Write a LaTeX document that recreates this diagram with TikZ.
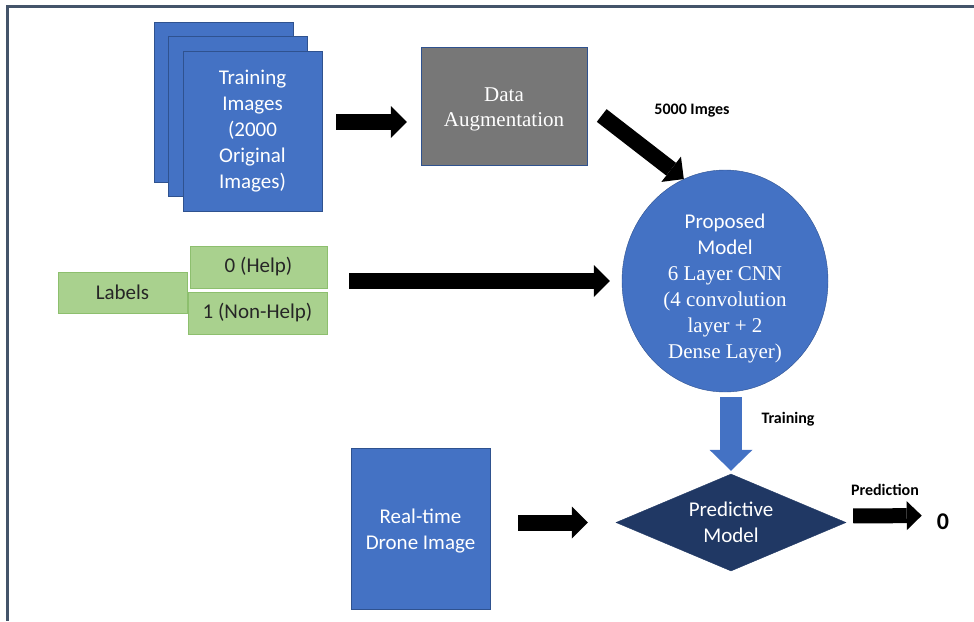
\documentclass[tikz,border=0pt]{standalone}
\usepackage{fontspec}
\setmainfont{Carlito}
\newfontfamily\tnr{Liberation Serif}
\usetikzlibrary{shapes.geometric,arrows.meta}

\definecolor{boxblue}{HTML}{4472C4}
\definecolor{edgeblue}{HTML}{2F528F}
\definecolor{boxgray}{HTML}{777777}
\definecolor{boxgreen}{HTML}{A9D18E}
\definecolor{edgegreen}{HTML}{8DBF6E}
\definecolor{diamondblue}{HTML}{203864}
\definecolor{frameline}{HTML}{44546A}

\begin{document}
\begin{tikzpicture}[x=1pt, y=-1pt,
        txt/.style={font=\fontsize{21}{26}\selectfont, align=center},
        bluebox/.style={txt, fill=boxblue, draw=edgeblue, text=white, inner sep=0pt},
        greenbox/.style={txt, fill=boxgreen, draw=edgegreen, text=black!85, inner sep=0pt},
        note/.style={font=\fontsize{16}{19}\selectfont\bfseries},
        blk/.style={line width=16pt, -{Triangle[length=16pt, width=32pt, line width=0pt]}}]
        \useasboundingbox (0,0) rectangle (974,621);
        \draw[frameline, line width=3pt] (974,6.5) -- (7.5,6.5) -- (7.5,621);
        % stacked training images
        \foreach \d in {0,14.5}
            {
                \draw[fill=boxblue, draw=edgeblue] (154+\d,22+\d) rectangle ++(139,160);
            }
        \node[bluebox, minimum width=139pt, minimum height=160pt] (train) at (252.5,131) {Training\\Images\\(2000\\Original\\Images)};
        \node[txt, fill=boxgray, draw=edgeblue, text=white, minimum width=166pt, minimum height=118pt] (aug) at (504,106) {};
        \node[txt, text=white, font=\tnr\fontsize{21}{25}\selectfont] (augtxt) at (504,109) {Data\\Augmentation};
        \node[note] (imges) at (692,111) {5000 Imges};
        \node[bluebox, ellipse, minimum width=206pt, minimum height=222pt] (model) at (725,281) {};
        \node[txt, text=white] (modeltxt) at (725,288) {Proposed\\Model\\{\tnr 6 Layer CNN}\\{\tnr (4 convolution}\\{\tnr layer + 2}\\{\tnr Dense Layer)}};
        % labels
        \node[greenbox, minimum width=129pt, minimum height=41pt] (labels) at (122.5,292.5) {Labels};
        \node[greenbox, minimum width=137pt, minimum height=42pt] (help) at (258.5,267) {0 (Help)};
        \node[greenbox, minimum width=139pt, minimum height=42pt] (nonhelp) at (257.5,313) {1 (Non-Help)};
        % prediction
        \node[bluebox, minimum width=139pt, minimum height=161pt] (drone) at (420.5,528.5) {};
        \node[txt, text=white] (dronetxt) at (420.5,531) {Real-time\\Drone Image};
        \node[txt, diamond, fill=diamondblue, draw=diamondblue, text=white, inner sep=0pt, minimum width=230pt, minimum height=97pt, aspect=2.37] (pred) at (731,522.5) {Predictive\\Model};
        \node[note] (trainlbl) at (788,419) {Training};
        \node[note] (predlbl) at (885,490) {Prediction};
        \node[inner sep=0pt, font=\fontsize{24}{28}\selectfont\bfseries] (zero) at (943,522) {0};
        % arrows
        \draw[blk, shorten <=14pt, shorten >=14pt] ([yshift=9pt]train.east) -- ([yshift=-16pt]aug.west);
        \draw[blk] ([xshift=14.5pt, yshift=-9.5pt]aug.east) -- (model.112);
        \draw[blk, shorten <=22pt, shorten >=12pt] (help.east |- model.west) -- (model.west);
        \draw[boxblue, line width=22pt, -{Triangle[length=21pt, width=43pt, line width=0pt]}, shorten >=3pt] ([xshift=6pt, yshift=-5pt]model.south) -- (pred.north);
        \draw[blk, shorten <=28pt, shorten >=28pt] (drone.east |- pred.west) -- (pred.west);
        \draw[blk, line width=15pt, -{Triangle[length=15pt, width=29pt, line width=0pt]}, shorten <=7pt, shorten >=15pt] ([yshift=6.5pt]pred.east) -- ([yshift=6.5pt]zero.west);
    \end{tikzpicture}
\end{document}
